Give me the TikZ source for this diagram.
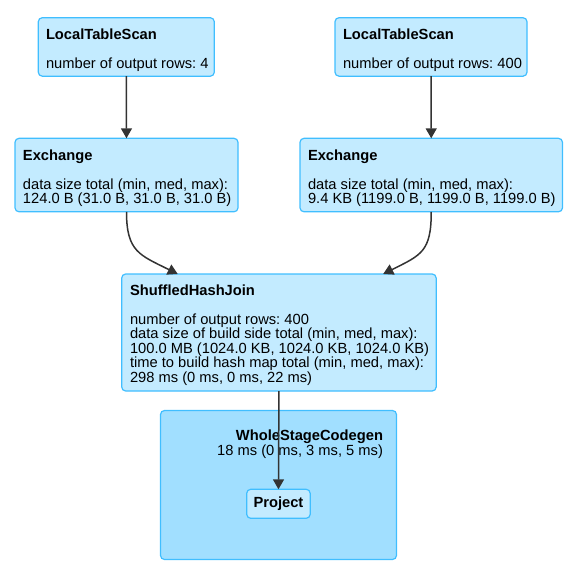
\documentclass[tikz,border=0pt]{standalone}
\usepackage{fontspec}
\setmainfont{Liberation Sans}
\usetikzlibrary{arrows.meta}
\frenchspacing
\definecolor{nodefill}{RGB}{195,235,255}
\definecolor{nodeline}{RGB}{64,190,255}
\definecolor{clusterfill}{RGB}{161,223,255}
\definecolor{edgecol}{RGB}{51,51,51}
\tikzset{
  box/.style={draw=nodeline, fill=nodefill, line width=1.2pt, rounded corners=4pt,
    inner sep=0pt, outer sep=0pt, anchor=north west},
  cluster/.style={draw=nodeline, fill=clusterfill, line width=1.2pt, rounded corners=4pt,
    inner sep=0pt, outer sep=0pt, anchor=north west},
  label/.style={inner sep=0pt, outer sep=0pt, anchor=base west, align=left,
    font=\fontsize{14.7}{14.5}\selectfont\frenchspacing},
  arr/.style={draw=edgecol, line width=1.5pt,
    -{Triangle[length=10pt,width=11pt]}},
}
\begin{document}
\begin{tikzpicture}[x=1pt,y=-1pt]
\useasboundingbox (0,0) rectangle (576,579);
% cluster
\node[cluster, minimum width=236, minimum height=149] (wsc) at (160.5,410.5) {};
\node[label, anchor=base east, align=right] (wsct) at (383,455) {\textbf{WholeStageCodegen}\\18 ms (0 ms, 3 ms, 5 ms)};
% boxes
\node[box, minimum width=176, minimum height=58.5] (lts1) at (38.3,17.7) {};
\node[label] (lts1t) at (46,68) {\textbf{LocalTableScan}\\[14.5pt]number of output rows: 4};
\node[box, minimum width=192, minimum height=58.5] (lts2) at (335,17.7) {};
\node[label] (lts2t) at (343,68) {\textbf{LocalTableScan}\\[14.5pt]number of output rows: 400};
\node[box, minimum width=223, minimum height=73.5] (ex1) at (15,138.3) {};
\node[label] (ex1t) at (23,203.5) {\textbf{Exchange}\\[14.5pt]data size total (min, med, max):\\124.0 B (31.0 B, 31.0 B, 31.0 B)};
\node[box, minimum width=262.5, minimum height=73.5] (ex2) at (300,138.3) {};
\node[label] (ex2t) at (308,203.5) {\textbf{Exchange}\\[14.5pt]data size total (min, med, max):\\9.4 KB (1199.0 B, 1199.0 B, 1199.0 B)};
\node[box, minimum width=314.5, minimum height=117] (shj) at (121.7,274) {};
\node[label] (shjt) at (130,382) {\textbf{ShuffledHashJoin}\\[14.5pt]number of output rows: 400\\data size of build side total (min, med, max):\\100.0 MB (1024.0 KB, 1024.0 KB, 1024.0 KB)\\time to build hash map total (min, med, max):\\298 ms (0 ms, 0 ms, 22 ms)};
\node[box, minimum width=63.5, minimum height=29, font=\fontsize{14.7}{14.5}\selectfont\bfseries] (proj) at (246.7,489.3) {Project};
% edges
\draw[arr] (lts1.south) -- (ex1.north);
\draw[arr] (lts2.south) -- (ex2.north);
\coordinate (shjin1) at ([xshift=56pt]shj.north west);
\coordinate (shjin2) at ([xshift=-53pt]shj.north east);
\draw[arr] (ex1.south) .. controls +(0,40) and +(-38,-19) .. (shjin1);
\draw[arr] (ex2.south) .. controls +(0,40) and +(38,-19) .. (shjin2);
\draw[arr] (shj.south) -- (proj.north);
\end{tikzpicture}
\end{document}
